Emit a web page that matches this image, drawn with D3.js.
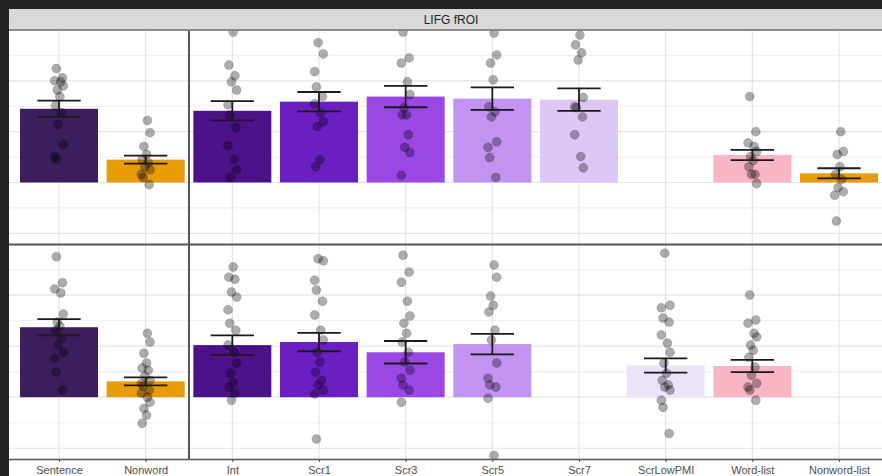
<!DOCTYPE html>
<html>
<head>
<meta charset="utf-8">
<script src="https://cdn.jsdelivr.net/npm/d3@7"></script>
<style>
  html, body { margin: 0; padding: 0; background: #232323; }
  svg { display: block; }
</style>
</head>
<body>
<svg id="chart" width="882" height="476"></svg>
<script>
// ---------------- DATA ----------------
const stripTitle = "LIFG fROI";
const categories = ["Sentence", "Nonword", "Int", "Scr1", "Scr3", "Scr5", "Scr7", "ScrLowPMI", "Word-list", "Nonword-list"];
const leftFacet = ["Sentence", "Nonword"];
const barColors = ["#3d1d5e", "#e89b05", "#4c1289", "#6b1ec2", "#9a47e6", "#c293f0", "#dec6f6", "#ece3fb", "#f9b5c4", "#e89b05"];

// top row (experiment 1)
const topMeans = [1.45, 0.45, 1.41, 1.59, 1.69, 1.65, 1.63, null, 0.54, 0.18];
const topSE    = [0.16, 0.08, 0.19, 0.19, 0.21, 0.22, 0.22, null, 0.10, 0.10];
const topPoints = [
  [2.24, 2.06, 2.00, 1.98, 1.90, 1.82, 1.69, 1.51, 1.37, 1.14, 0.75, 0.51, 0.45],
  [1.22, 0.98, 0.71, 0.55, 0.45, 0.39, 0.31, 0.25, 0.16, 0.10, -0.04],
  [2.96, 2.31, 2.10, 1.98, 1.82, 1.53, 1.33, 1.08, 0.73, 0.45, 0.25, 0.10],
  [2.75, 2.53, 2.18, 1.88, 1.69, 1.55, 1.37, 1.20, 1.10, 0.45, 0.31],
  [2.96, 2.45, 2.35, 1.98, 1.73, 1.47, 1.33, 1.33, 0.94, 0.69, 0.59, 0.14],
  [2.94, 2.51, 2.35, 2.02, 1.49, 1.39, 1.29, 0.80, 0.69, 0.49, 0.10],
  [2.90, 2.71, 2.55, 2.41, 1.67, 1.49, 1.47, 1.29, 0.94, 0.51, 0.29],
  [],
  [1.69, 1.00, 0.78, 0.71, 0.61, 0.51, 0.43, 0.31, 0.16, 0.16, -0.02],
  [1.00, 0.61, 0.55, 0.31, 0.16, 0.06, -0.10, -0.18, -0.25, -0.76]
];

// bottom row (experiment 2)
const bottomMeans = [1.37, 0.31, 1.02, 1.08, 0.88, 1.04, null, 0.62, 0.61, null];
const bottomSE    = [0.16, 0.08, 0.19, 0.18, 0.22, 0.20, null, 0.14, 0.12, null];
const bottomPoints = [
  [2.75, 2.24, 2.12, 2.04, 1.63, 1.47, 1.39, 1.31, 1.16, 1.02, 0.88, 0.76, 0.49, 0.14],
  [1.25, 1.08, 0.86, 0.67, 0.57, 0.53, 0.41, 0.33, 0.27, 0.22, 0.14, 0.08, 0.00, -0.10, -0.22, -0.35, -0.51],
  [2.55, 2.35, 2.31, 2.06, 1.96, 1.71, 1.45, 1.31, 1.02, 0.88, 0.67, 0.47, 0.29, 0.20, 0.08, -0.06],
  [2.71, 2.67, 2.29, 2.10, 1.88, 1.61, 1.31, 1.12, 0.88, 0.69, 0.49, 0.33, 0.24, 0.14, 0.06, -0.82],
  [2.78, 2.45, 2.25, 1.88, 1.59, 1.45, 1.25, 1.08, 0.88, 0.69, 0.53, 0.37, 0.24, 0.14, -0.10],
  [2.59, 2.35, 1.98, 1.80, 1.67, 1.31, 1.12, 0.67, 0.37, 0.24, 0.20, -0.02, -1.14],
  [],
  [2.82, 1.80, 1.75, 1.55, 1.47, 1.22, 1.06, 0.88, 0.67, 0.47, 0.33, 0.24, 0.20, 0.14, -0.06, -0.20, -0.71],
  [2.00, 1.51, 1.45, 1.25, 1.18, 1.02, 0.92, 0.78, 0.59, 0.43, 0.27, 0.20, 0.14, -0.06],
  []
];

// horizontal jitter pattern (fraction of category step), cycled through points
const jitterPattern = [-0.03, 0.04, -0.05, 0.02, 0.05, -0.02, 0.01, -0.04, 0.03, -0.01, 0.05, -0.05];
const yTicks = [-1, -0.5, 0, 0.5, 1, 1.5, 2, 2.5];
const yDomain = [-1.21, 2.98];

// ---------------- LAYOUT ----------------
const W = 882, H = 476;
const plotL = 9, plotR = 882;
const stripTop = 9, stripBot = 29;
const rowsY = [[31, 244], [245, 459]];
const dividerX = 189;

const svg = d3.select("#chart");
svg.append("rect").attr("width", W).attr("height", H).attr("fill", "#232323");
svg.append("rect").attr("x", plotL).attr("y", stripTop).attr("width", plotR - plotL).attr("height", H - stripTop).attr("fill", "#ffffff");

const x = d3.scalePoint().domain(categories).range([59, 839]);
const step = x.step();
const barW = step * 0.9;
const capW = step * 0.5;

const rowData = [
  { means: topMeans, se: topSE, pts: topPoints },
  { means: bottomMeans, se: bottomSE, pts: bottomPoints }
];

rowData.forEach((row, ri) => {
  const [yT, yB] = rowsY[ri];
  const y = d3.scaleLinear().domain(yDomain).range([yB, yT]);
  const g = svg.append("g");
  const clipId = "clip" + ri;
  svg.append("clipPath").attr("id", clipId).append("rect")
    .attr("x", plotL).attr("y", yT).attr("width", plotR - plotL).attr("height", yB - yT);
  g.attr("clip-path", `url(#${clipId})`);

  // gridlines
  g.selectAll(".hg").data(yTicks).join("line")
    .attr("x1", plotL).attr("x2", plotR)
    .attr("y1", d => y(d)).attr("y2", d => y(d))
    .attr("stroke", d => Number.isInteger(d) ? "#e4e4e4" : "#f0f0f0")
    .attr("stroke-width", 1.2);
  g.selectAll(".vg").data(categories).join("line")
    .attr("x1", d => x(d)).attr("x2", d => x(d))
    .attr("y1", yT).attr("y2", yB)
    .attr("stroke", "#e4e4e4").attr("stroke-width", 1.2);

  const bars = categories.map((c, i) => ({ c, i, m: row.means[i], s: row.se[i] })).filter(d => d.m !== null);

  g.selectAll(".bar").data(bars).join("rect")
    .attr("x", d => x(d.c) - barW / 2)
    .attr("width", barW)
    .attr("y", d => Math.min(y(d.m), y(0)))
    .attr("height", d => Math.abs(y(0) - y(d.m)))
    .attr("fill", d => barColors[d.i]);

  const pts = [];
  categories.forEach((c, i) => {
    row.pts[i].forEach((v, k) => pts.push({ c, v, j: jitterPattern[(k + i * 3) % jitterPattern.length] }));
  });
  g.selectAll(".pt").data(pts).join("circle")
    .attr("cx", d => x(d.c) + d.j * step)
    .attr("cy", d => y(d.v))
    .attr("r", 4.5)
    .attr("fill", "#000").attr("fill-opacity", 0.32)
    .attr("stroke", "#000").attr("stroke-opacity", 0.15).attr("stroke-width", 1);

  const eb = g.selectAll(".eb").data(bars).join("g").attr("stroke", "#1a1a1a").attr("stroke-width", 1.8);
  eb.append("line").attr("x1", d => x(d.c)).attr("x2", d => x(d.c))
    .attr("y1", d => y(d.m + d.s)).attr("y2", d => y(d.m - d.s));
  eb.append("line").attr("x1", d => x(d.c) - capW / 2).attr("x2", d => x(d.c) + capW / 2)
    .attr("y1", d => y(d.m + d.s)).attr("y2", d => y(d.m + d.s));
  eb.append("line").attr("x1", d => x(d.c) - capW / 2).attr("x2", d => x(d.c) + capW / 2)
    .attr("y1", d => y(d.m - d.s)).attr("y2", d => y(d.m - d.s));
});

// facet dividers
svg.append("line").attr("x1", dividerX).attr("x2", dividerX).attr("y1", 31).attr("y2", 459)
  .attr("stroke", "#555").attr("stroke-width", 2);
svg.append("line").attr("x1", plotL).attr("x2", plotR).attr("y1", 244.5).attr("y2", 244.5)
  .attr("stroke", "#555").attr("stroke-width", 2);

// strip
svg.append("rect").attr("x", plotL).attr("y", stripTop).attr("width", plotR - plotL).attr("height", stripBot - stripTop)
  .attr("fill", "#d9d9d9");
svg.append("line").attr("x1", plotL).attr("x2", plotR).attr("y1", 30).attr("y2", 30)
  .attr("stroke", "#8a8a8a").attr("stroke-width", 2);
svg.append("text").attr("x", 451).attr("y", 23.5).attr("text-anchor", "middle")
  .attr("font-family", "Liberation Sans, Arial, sans-serif").attr("font-size", 12)
  .attr("font-weight", 400)
  .attr("fill", "#262626").text(stripTitle);

// x axis
const xAxis = d3.axisBottom(x).tickSize(3).tickPadding(4);
const ax = svg.append("g").attr("transform", "translate(0,459)").call(xAxis);
ax.select(".domain").attr("stroke", "#555").attr("stroke-width", 1.5)
  .attr("d", `M${plotL},0.5H${plotR}`);
ax.selectAll(".tick line").attr("stroke", "#555").attr("stroke-width", 1.2);
ax.selectAll(".tick text").attr("font-family", "Liberation Sans, Arial, sans-serif")
  .attr("font-size", 11).attr("fill", "#4d4d4d");
</script>
</body>
</html>
